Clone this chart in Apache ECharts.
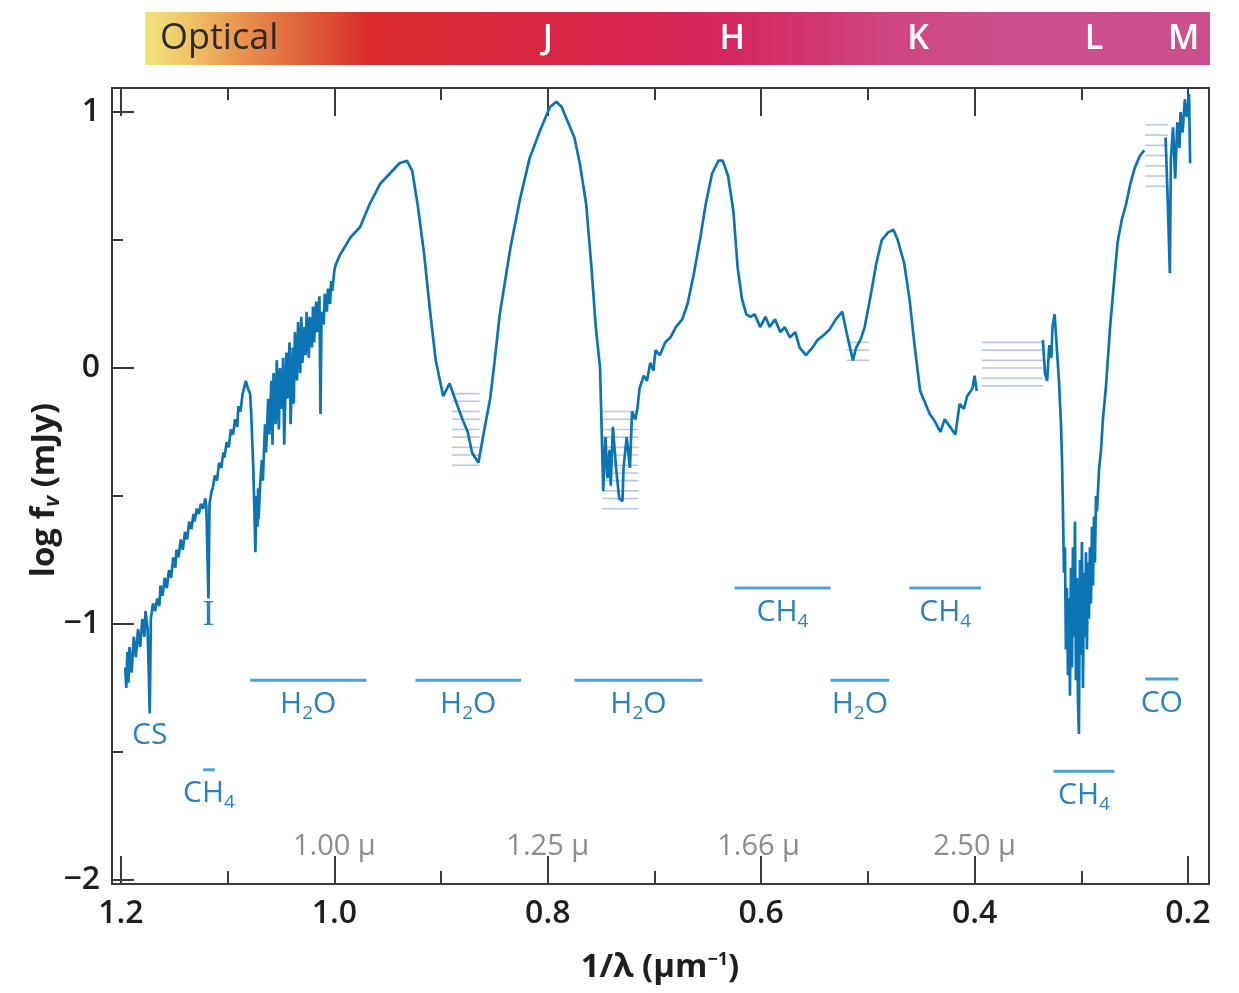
<!DOCTYPE html>
<html>
<head>
<meta charset="UTF-8">
<title>Brown dwarf spectrum, log f_v vs 1/λ</title>
<script src="https://cdn.jsdelivr.net/npm/echarts@6.0.0/dist/echarts.min.js"></script>
<style>
  html, body { margin: 0; padding: 0; background: #fff; }
  #chart { width: 1239px; height: 993px; }
</style>
</head>
<body>
<div id="chart"></div>
<script>
// spectrum: [1/λ (μm^-1), log f_v (mJy)]; null = gap in the data
const spectrumOptical = [
  [1.196, -1.17], [1.195, -1.25], [1.194, -1.11], [1.193, -1.23], [1.192, -1.09], [1.190, -1.19],
  [1.188, -1.05], [1.186, -1.13], [1.184, -1.02], [1.182, -1.09], [1.180, -0.98], [1.178, -1.05],
  [1.177, -0.95], [1.175, -1.02], [1.173, -1.35], [1.172, -0.98], [1.170, -0.92], [1.168, -0.95],
  [1.166, -0.90], [1.164, -0.93], [1.163, -0.85], [1.161, -0.89], [1.159, -0.82], [1.157, -0.86],
  [1.155, -0.79], [1.153, -0.82], [1.151, -0.74], [1.149, -0.78], [1.148, -0.71], [1.146, -0.74],
  [1.144, -0.67], [1.142, -0.71], [1.140, -0.64], [1.138, -0.67], [1.136, -0.60], [1.134, -0.63],
  [1.132, -0.57], [1.131, -0.60], [1.129, -0.55], [1.127, -0.57], [1.125, -0.53], [1.123, -0.55],
  [1.121, -0.51], [1.120, -0.54], [1.118, -0.90], [1.117, -0.53], [1.115, -0.48], [1.114, -0.47],
  [1.112, -0.42], [1.110, -0.44], [1.108, -0.37], [1.106, -0.39], [1.104, -0.33], [1.103, -0.35],
  [1.101, -0.29], [1.099, -0.31], [1.097, -0.24], [1.095, -0.26], [1.093, -0.20], [1.091, -0.23],
  [1.090, -0.15], [1.088, -0.17], [1.086, -0.10], [1.084, -0.07], [1.083, -0.05], [1.081, -0.08],
  [1.079, -0.10], [1.078, -0.17], [1.076, -0.39], [1.075, -0.55], [1.074, -0.72], [1.073, -0.50],
  [1.072, -0.62], [1.0715, -0.47], [1.071, -0.59], [1.0695, -0.45], [1.068, -0.36], [1.067, -0.44],
  [1.065, -0.22], [1.064, -0.33], [1.062, -0.12], [1.061, -0.26], [1.059, -0.05], [1.058, -0.30],
  [1.057, -0.02], [1.055, -0.22], [1.054, 0.03], [1.052, -0.24], [1.051, 0.00], [1.049, -0.16],
  [1.048, 0.04], [1.047, -0.30], [1.045, 0.06], [1.044, -0.12], [1.042, 0.10], [1.041, -0.22],
  [1.039, 0.08], [1.038, -0.14], [1.037, 0.14], [1.035, -0.05], [1.034, 0.18], [1.032, -0.02],
  [1.031, 0.20], [1.030, 0.02], [1.028, 0.16], [1.027, 0.05], [1.026, 0.22], [1.024, 0.04],
  [1.023, 0.20], [1.021, 0.08], [1.020, 0.24], [1.019, 0.10], [1.017, 0.26], [1.016, 0.14],
  [1.014, 0.28], [1.013, -0.18], [1.012, 0.22], [1.010, 0.17], [1.009, 0.29], [1.007, 0.22],
  [1.006, 0.31], [1.004, 0.25], [1.003, 0.34], [1.002, 0.30], [1.000, 0.38], [0.999, 0.40]
];
const spectrumNearIR = [
  [0.995, 0.44], [0.985, 0.51], [0.976, 0.55], [0.967, 0.64], [0.957, 0.72], [0.948, 0.76],
  [0.939, 0.80], [0.932, 0.81], [0.927, 0.77], [0.922, 0.64], [0.916, 0.45], [0.910, 0.21],
  [0.905, 0.03], [0.898, -0.11], [0.892, -0.06], [0.887, -0.12], [0.880, -0.20], [0.875, -0.25],
  [0.871, -0.33], [0.865, -0.37], [0.859, -0.23], [0.854, -0.12], [0.850, 0.02], [0.845, 0.21],
  [0.835, 0.47], [0.826, 0.66], [0.817, 0.82], [0.807, 0.93], [0.798, 1.02], [0.792, 1.04],
  [0.787, 1.02], [0.781, 0.96], [0.775, 0.90], [0.770, 0.80], [0.764, 0.64], [0.759, 0.39],
  [0.755, 0.16], [0.751, 0.00], [0.748, -0.48], [0.746, -0.27], [0.744, -0.43], [0.742, -0.32],
  [0.741, -0.46], [0.739, -0.23], [0.736, -0.39], [0.733, -0.51], [0.730, -0.52], [0.729, -0.39],
  [0.726, -0.27], [0.723, -0.39], [0.721, -0.17], [0.718, -0.20], [0.716, -0.16], [0.714, -0.08],
  [0.710, -0.03], [0.707, -0.05], [0.704, 0.02], [0.701, -0.01], [0.699, 0.07], [0.695, 0.05],
  [0.690, 0.10], [0.685, 0.12], [0.680, 0.16], [0.674, 0.19], [0.669, 0.25], [0.663, 0.37],
  [0.657, 0.51], [0.652, 0.64], [0.646, 0.76], [0.640, 0.81], [0.636, 0.81], [0.631, 0.75],
  [0.626, 0.61], [0.622, 0.39], [0.618, 0.27], [0.614, 0.21], [0.610, 0.20], [0.606, 0.21],
  [0.601, 0.16], [0.596, 0.20], [0.592, 0.16], [0.587, 0.19], [0.582, 0.14], [0.578, 0.16],
  [0.573, 0.12], [0.568, 0.14], [0.564, 0.08], [0.558, 0.05], [0.552, 0.08], [0.547, 0.11],
  [0.541, 0.13], [0.536, 0.15], [0.530, 0.19], [0.524, 0.22], [0.520, 0.14], [0.514, 0.03],
  [0.511, 0.08], [0.507, 0.11], [0.503, 0.16], [0.498, 0.27], [0.492, 0.41], [0.487, 0.50],
  [0.481, 0.53], [0.476, 0.54], [0.472, 0.50], [0.466, 0.41], [0.461, 0.27], [0.456, 0.08],
  [0.451, -0.09], [0.446, -0.14], [0.442, -0.18], [0.437, -0.21], [0.432, -0.25], [0.428, -0.20],
  [0.423, -0.23], [0.418, -0.26], [0.414, -0.14], [0.410, -0.16], [0.407, -0.11], [0.402, -0.08],
  [0.400, -0.03], [0.398, -0.09], [0.367, null]
];
const spectrumThermal = [
  [0.336, 0.11], [0.334, -0.02], [0.332, -0.05], [0.330, 0.09], [0.328, 0.04], [0.327, 0.16],
  [0.325, 0.21], [0.3228, 0.07], [0.3209, -0.05], [0.3190, -0.22], [0.3181, -0.35], [0.3172, -0.55],
  [0.3162, -0.80], [0.3153, -0.70], [0.3144, -1.10], [0.3134, -0.86], [0.3125, -1.20], [0.3115, -0.90],
  [0.3106, -1.28], [0.3097, -0.78], [0.3087, -1.17], [0.3078, -0.70], [0.3069, -1.05], [0.3059, -0.60],
  [0.3050, -1.22], [0.3040, -0.82], [0.3031, -1.30], [0.3022, -1.43], [0.3012, -0.75], [0.3003, -1.12],
  [0.2994, -0.68], [0.2984, -1.25], [0.2975, -0.80], [0.2965, -1.05], [0.2956, -0.72], [0.2947, -1.10],
  [0.2937, -0.76], [0.2928, -0.98], [0.2919, -0.70], [0.2909, -0.92], [0.2900, -0.62], [0.2890, -0.85],
  [0.2881, -0.58], [0.2872, -0.76], [0.2862, -0.50], [0.2853, -0.56], [0.2834, -0.40], [0.2815, -0.32],
  [0.2797, -0.20], [0.277, -0.08], [0.273, 0.16], [0.269, 0.35], [0.266, 0.49], [0.262, 0.58],
  [0.258, 0.64], [0.254, 0.72], [0.250, 0.78], [0.245, 0.83], [0.241, 0.85], [0.231, null],
  [0.221, 0.90], [0.219, 0.66], [0.217, 0.37], [0.216, 0.82], [0.214, 0.94], [0.212, 0.74],
  [0.210, 0.96], [0.208, 0.86], [0.207, 1.00], [0.205, 0.92], [0.203, 1.05], [0.201, 0.98],
  [0.199, 1.07], [0.198, 0.80]
];

// hatched (masked) stretches: [from, to] in 1/λ and the log f_v of each hatch line
const hatchRanges = [[0.890, 0.864], [0.749, 0.715], [0.520, 0.499], [0.393, 0.336], [0.240, 0.219]];
const hatchLevels = [
  [-0.10, -0.13, -0.17, -0.20, -0.24, -0.27, -0.31, -0.34, -0.38],
  [-0.17, -0.20, -0.24, -0.27, -0.31, -0.34, -0.38, -0.41, -0.44, -0.48, -0.51, -0.55],
  [0.10, 0.07, 0.03],
  [0.10, 0.07, 0.03, 0.00, -0.04, -0.07],
  [0.95, 0.91, 0.87, 0.83, 0.79, 0.75, 0.71]
];

// absorption bands: name, extent in 1/λ, height of the bar
const bandNames = ['H2O', 'H2O', 'H2O', 'H2O', 'CH4', 'CH4', 'CH4', 'CH4', 'CO'];
const bandFrom  = [1.079, 0.924, 0.775, 0.535, 0.625, 0.461, 0.326, 1.123, 0.240];
const bandTo    = [0.970, 0.825, 0.655, 0.480, 0.535, 0.394, 0.269, 1.112, 0.209];
const bandLevel = [-1.22, -1.22, -1.22, -1.22, -0.86, -0.86, -1.575, -1.57, -1.215];

// single lines marked without a bar
const lineNames = ['CS', 'I'];
const lineAt    = [1.173, 1.118];
const lineTextY = [-1.434, -0.969];

// wavelength markers
const wlLabels = ['1.00 μ', '1.25 μ', '1.66 μ', '2.50 μ'];
const wlAt     = [1.0, 0.8, 0.6024, 0.4];
const wlTextY  = -1.872;

// photometric bands along the top strip
const filterNames = ['J', 'H', 'K', 'L', 'M'];
const filterAt    = [0.80, 0.627, 0.453, 0.288, 0.204];

const majorX = [1.2, 1.0, 0.8, 0.6, 0.4, 0.2];
const minorX = [1.1, 0.9, 0.7, 0.5, 0.3];
const majorY = [-2, -1, 0, 1];
const minorY = [-1.5, -0.5, 0.5];

const FONT = '"Open Sans", "Noto Sans", sans-serif';
const AXIS = '#3a3a3a';
const BLUE = '#0b74b5';
const NOTE = '#2b82c2';
const BAR = '#4aa2d6';

const spectrum = spectrumOptical.concat(spectrumNearIR, spectrumThermal)
  .map(p => p[1] === null ? [p[0], '-'] : p);

const hatchData = [];
hatchRanges.forEach((r, i) => hatchLevels[i].forEach(y => hatchData.push([r[0], r[1], y])));

const chemRich = {
  n: { fontSize: 30, fontFamily: FONT, fill: NOTE, lineHeight: 30 },
  s: { fontSize: 19, fontFamily: FONT, fill: NOTE, lineHeight: 19, padding: [18, 0, 0, 0] }
};
function chem(name) {
  return name.split(/(\d)/).filter(t => t).map(t => /\d/.test(t) ? '{s|' + t + '}' : '{n|' + t + '}').join('');
}

const chart = echarts.init(document.getElementById('chart'), null, { renderer: 'canvas' });

const X_MIN = 0.1803, X_MAX = 1.2084;
const Y_MIN = -2.016, Y_MAX = 1.094;

function xAxisOf(position, ticks, len, labels) {
  return {
    type: 'value', position: position, min: X_MIN, max: X_MAX, inverse: true,
    splitLine: { show: false },
    axisLine: { show: true, onZero: false, lineStyle: { color: AXIS, width: 2 } },
    axisTick: { show: true, inside: true, length: len, customValues: ticks, lineStyle: { color: AXIS, width: 2 } },
    axisLabel: labels ? {
      show: true, customValues: ticks, margin: 14, fontSize: 32, fontFamily: FONT, fontWeight: 600,
      color: '#1e1e1e', formatter: v => v.toFixed(1)
    } : { show: false }
  };
}
function yAxisOf(ticks, len, labels) {
  return {
    type: 'value', position: 'left', min: Y_MIN, max: Y_MAX,
    splitLine: { show: false },
    axisLine: { show: true, onZero: false, lineStyle: { color: AXIS, width: 2 } },
    axisTick: { show: true, inside: true, length: len, customValues: ticks, lineStyle: { color: AXIS, width: 2 } },
    axisLabel: labels ? {
      show: true, customValues: ticks, margin: 12, fontSize: 32, fontFamily: FONT, fontWeight: 600,
      color: '#1e1e1e', formatter: v => v < 0 ? '\u2212' + Math.abs(v) : String(v)
    } : { show: false }
  };
}

const option = {
  animation: false,
  backgroundColor: '#fff',
  grid: {
    left: 112, right: 30, top: 88, bottom: 109,
    show: true, borderColor: AXIS, borderWidth: 2, backgroundColor: 'transparent'
  },
  xAxis: [
    xAxisOf('bottom', majorX, 28, true),
    xAxisOf('bottom', minorX, 13, false),
    xAxisOf('top', majorX, 28, false),
    xAxisOf('top', minorX, 12, false)
  ],
  yAxis: [
    yAxisOf(majorY, 22, true),
    yAxisOf(minorY, 11, false)
  ],
  series: [
    {
      // masked stretches
      type: 'custom',
      data: hatchData,
      renderItem: function (params, api) {
        const a = api.coord([api.value(0), api.value(2)]);
        const b = api.coord([api.value(1), api.value(2)]);
        return { type: 'line', shape: { x1: a[0], y1: a[1], x2: b[0], y2: b[1] },
                 style: { stroke: '#b9c7df', lineWidth: 1.6 } };
      },
      z: 1
    },
    {
      type: 'line',
      data: spectrum,
      showSymbol: false,
      connectNulls: false,
      lineStyle: { color: BLUE, width: 2.7 },
      z: 3
    },
    {
      // absorption bands with bar and label
      type: 'custom',
      data: bandNames.map((n, i) => [bandFrom[i], bandTo[i], bandLevel[i], i]),
      renderItem: function (params, api) {
        const a = api.coord([api.value(0), api.value(2)]);
        const b = api.coord([api.value(1), api.value(2)]);
        const name = bandNames[api.value(3)];
        return {
          type: 'group',
          children: [
            { type: 'line', shape: { x1: a[0], y1: a[1], x2: b[0], y2: b[1] },
              style: { stroke: BAR, lineWidth: 3 } },
            { type: 'text', x: (a[0] + b[0]) / 2, y: a[1] + 24,
              style: { text: chem(name), rich: chemRich, align: 'center', verticalAlign: 'middle' } }
          ]
        };
      },
      z: 4
    },
    {
      type: 'custom',
      data: lineNames.map((n, i) => [lineAt[i], lineTextY[i], i]),
      renderItem: function (params, api) {
        const p = api.coord([api.value(0), api.value(1)]);
        const name = lineNames[api.value(2)];
        // the iodine mark is set in a serif face in the original
        const font = name === 'I' ? '36px "Liberation Serif", "DejaVu Serif", serif' : '30px ' + FONT;
        return { type: 'text', x: p[0], y: p[1],
                 style: { text: name, font: font, fill: NOTE, align: 'center', verticalAlign: 'middle' } };
      },
      z: 4
    },
    {
      type: 'custom',
      data: wlLabels.map((n, i) => [wlAt[i], wlTextY, i]),
      renderItem: function (params, api) {
        const p = api.coord([api.value(0), api.value(1)]);
        return { type: 'text', x: p[0], y: p[1],
                 style: { text: wlLabels[api.value(2)], font: '29px ' + FONT, fill: '#8c8c8c', align: 'center', verticalAlign: 'middle' } };
      },
      z: 4
    }
  ]
};
chart.setOption(option);

// header strip and axis titles
const stripLeft = 145, stripTop = 12, stripW = 1065, stripH = 53;
const graphics = [
  {
    type: 'rect', left: stripLeft, top: stripTop, shape: { width: stripW, height: stripH },
    style: {
      fill: new echarts.graphic.LinearGradient(0, 0, 1, 0, [
        { offset: 0, color: '#f4e47e' },
        { offset: 0.04, color: '#f0c566' },
        { offset: 0.10, color: '#e8894a' },
        { offset: 0.16, color: '#df5838' },
        { offset: 0.21, color: '#d92a2c' },
        { offset: 0.40, color: '#d72546' },
        { offset: 0.55, color: '#d5265f' },
        { offset: 0.70, color: '#cf4682' },
        { offset: 0.80, color: '#cd4e8c' },
        { offset: 1, color: '#cc4f8e' }
      ])
    }
  },
  {
    type: 'text', x: 160, y: stripTop + stripH / 2,
    style: { text: 'Optical', font: '36px ' + FONT, fill: '#2b2b2b', align: 'left', verticalAlign: 'middle' }
  },
  {
    type: 'text', x: 45, y: 490, rotation: Math.PI / 2,
    style: {
      text: '{b|log f}{v|v}{b| (mJy)}', align: 'center', verticalAlign: 'middle',
      rich: {
        b: { fontSize: 33, fontWeight: 'bold', fontFamily: FONT, fill: '#1e1e1e', lineHeight: 34 },
        v: { fontSize: 21, fontWeight: 'bold', fontStyle: 'italic', fontFamily: FONT, fill: '#1e1e1e', lineHeight: 21, padding: [16, 0, 0, 0] }
      }
    }
  },
  {
    type: 'text', x: 660, y: 968,
    style: {
      text: '{b|1/λ (μm}{p|\u22121}{b|)}', align: 'center', verticalAlign: 'middle',
      rich: {
        b: { fontSize: 33, fontWeight: 'bold', fontFamily: FONT, fill: '#1e1e1e', lineHeight: 34 },
        p: { fontSize: 18, fontWeight: 'bold', fontFamily: FONT, fill: '#1e1e1e', lineHeight: 18, padding: [0, 0, 16, 0] }
      }
    }
  }
];
filterNames.forEach((n, i) => {
  const px = chart.convertToPixel({ xAxisIndex: 0 }, filterAt[i]);
  graphics.push({
    type: 'text', x: px, y: stripTop + stripH / 2 + 1,
    style: { text: n, font: '600 34px ' + FONT, fill: '#ffffff', align: 'center', verticalAlign: 'middle' }
  });
});
chart.setOption({ graphic: graphics });
</script>
</body>
</html>
